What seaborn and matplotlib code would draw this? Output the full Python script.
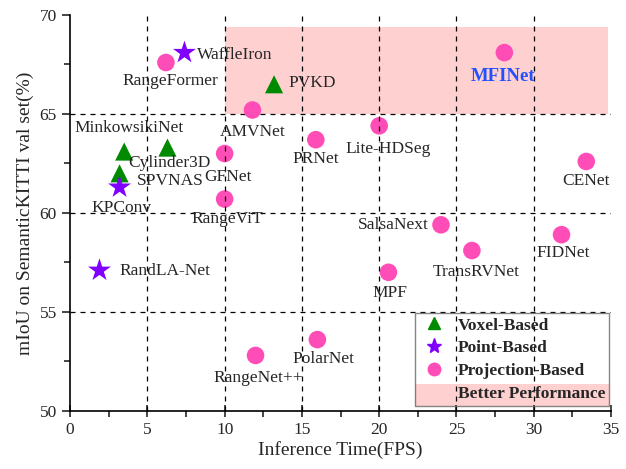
import matplotlib
matplotlib.use("Agg")
import matplotlib.pyplot as plt
import seaborn as sns
import pandas as pd
from matplotlib.lines import Line2D
from matplotlib.patches import Rectangle

methods = ["WaffleIron", "RangeFormer", "PVKD", "AMVNet", "PRNet", "Lite-HDSeg", "MFINet",
           "CENet", "MinkowsikiNet", "Cylinder3D", "SPVNAS", "KPConv", "GFNet", "RangeViT",
           "RandLA-Net", "RangeNet++", "PolarNet", "SalsaNext", "TransRVNet", "FIDNet", "MPF"]
fps = [7.4, 6.2, 13.2, 11.8, 15.9, 20.0, 28.1,
       33.4, 3.5, 6.3, 3.2, 3.2, 10.0, 10.0,
       1.9, 12.0, 16.0, 24.0, 26.0, 31.8, 20.6]
miou = [68.1, 67.6, 66.5, 65.2, 63.7, 64.4, 68.1,
        62.6, 63.1, 63.3, 62.0, 61.3, 63.0, 60.7,
        57.1, 52.8, 53.6, 59.4, 58.1, 58.9, 57.0]
kind = ["Point-Based", "Projection-Based", "Voxel-Based", "Projection-Based", "Projection-Based",
        "Projection-Based", "Projection-Based", "Projection-Based", "Voxel-Based", "Voxel-Based",
        "Voxel-Based", "Point-Based", "Projection-Based", "Projection-Based", "Point-Based",
        "Projection-Based", "Projection-Based", "Projection-Based", "Projection-Based",
        "Projection-Based", "Projection-Based"]

# label positions (text anchor) and alignment
label_pos = {
    "WaffleIron": (8.2, 68.0, "left"), "RangeFormer": (6.5, 66.65, "center"),
    "PVKD": (14.1, 66.55, "left"), "AMVNet": (11.8, 64.1, "center"),
    "PRNet": (15.9, 62.7, "center"), "Lite-HDSeg": (20.6, 63.25, "center"),
    "MFINet": (28.0, 66.9, "center"), "CENet": (33.4, 61.6, "center"),
    "MinkowsikiNet": (3.82, 64.3, "center"), "Cylinder3D": (6.4, 62.5, "center"),
    "SPVNAS": (4.3, 61.6, "left"), "GFNet": (10.2, 61.8, "center"),
    "KPConv": (3.3, 60.25, "center"), "RangeViT": (10.15, 59.7, "center"),
    "RandLA-Net": (3.2, 57.05, "left"), "RangeNet++": (12.15, 51.65, "center"),
    "PolarNet": (16.4, 52.6, "center"), "SalsaNext": (20.9, 59.4, "center"),
    "TransRVNet": (26.25, 57.0, "center"), "FIDNet": (31.9, 58.0, "center"),
    "MPF": (20.7, 55.95, "center"),
}

df = pd.DataFrame({"method": methods, "fps": fps, "miou": miou, "kind": kind})

colors = {"Voxel-Based": "#008a00", "Point-Based": "#8000ff", "Projection-Based": "#ff4db8"}
markers = {"Voxel-Based": "^", "Point-Based": "*", "Projection-Based": "o"}
sizes = {"Voxel-Based": 170, "Point-Based": 300, "Projection-Based": 160}
band_color = "#ffd0d0"

sns.set_style("ticks")
plt.rcParams["font.family"] = ["Liberation Serif", "DejaVu Serif"]

fig = plt.figure(figsize=(6.26, 4.69), dpi=100)
ax = fig.add_axes([0.112, 0.124, 0.864, 0.844])

ax.add_patch(Rectangle((10, 65), 24.8, 4.4, facecolor=band_color, edgecolor="none", zorder=0))
for xv in [5, 10, 15, 20, 25, 30]:
    ax.axvline(xv, color="black", lw=0.9, ls=(0, (4, 4)), zorder=4)
for yv in [55, 60, 65]:
    ax.axhline(yv, color="black", lw=0.9, ls=(0, (4, 4)), zorder=1)

sns.scatterplot(data=df, x="fps", y="miou", hue="kind", style="kind", size="kind",
                palette=colors, markers=markers, sizes=sizes, linewidth=0,
                legend=False, ax=ax, zorder=3)

for m in methods:
    tx, ty, ha = label_pos[m]
    if m == "MFINet":
        ax.text(tx, ty, m, ha=ha, va="center", fontsize=13.5, fontweight="bold", color="#2050ff", zorder=5)
    else:
        ax.text(tx, ty, m, ha=ha, va="center", fontsize=12.5, zorder=5)

ax.set_xlim(0, 35)
ax.set_ylim(50, 70)
ax.set_xticks([0, 5, 10, 15, 20, 25, 30, 35])
ax.set_yticks([50, 55, 60, 65, 70])
ax.set_xticks([2.5, 7.5, 12.5, 17.5, 22.5, 27.5, 32.5], minor=True)
ax.set_yticks([52.5, 57.5, 62.5, 67.5], minor=True)
ax.tick_params(axis="both", which="major", labelsize=12.5, length=6, width=1.2, direction="out")
ax.tick_params(axis="x", which="major", length=9, direction="inout")
ax.tick_params(axis="both", which="minor", length=4, width=1.2, direction="out")
ax.set_xlabel("Inference Time(FPS)", fontsize=14, labelpad=2)
ax.set_ylabel("mIoU on SemanticKITTI val set(%)", fontsize=14)
sns.despine(ax=ax)
for s in ["left", "bottom"]:
    ax.spines[s].set_linewidth(1.2)
    ax.spines[s].set_color("black")

handles = [
    Line2D([], [], ls="none", marker="^", color=colors["Voxel-Based"], markersize=9),
    Line2D([], [], ls="none", marker="*", color=colors["Point-Based"], markersize=11),
    Line2D([], [], ls="none", marker="o", color=colors["Projection-Based"], markersize=9),
    Line2D([], [], ls="none"),
]
leg = ax.legend(handles, ["Voxel-Based", "Point-Based", "Projection-Based", "Better Performance"],
                loc="lower right", bbox_to_anchor=(0.997, 0.012), prop={"weight": "bold", "size": 12.5},
                frameon=True, fancybox=False, edgecolor="#666666", facecolor="none",
                handlelength=1.7, handletextpad=0.5, labelspacing=0.38, borderpad=0.25,
                borderaxespad=0)
leg.get_frame().set_linewidth(1.0)
leg.set_zorder(6)

# full-width shaded band behind the last legend row
fig.canvas.draw()
fb = leg.get_frame().get_window_extent()
tb = leg.get_texts()[-1].get_window_extent()
inv = ax.transAxes.inverted()
(x0, y0) = inv.transform((fb.x0, fb.y0))
(x1, y1) = inv.transform((fb.x1, tb.y1 + 2))
ax.add_patch(Rectangle((x0, y0), x1 - x0, y1 - y0, transform=ax.transAxes, clip_on=False,
                       facecolor=band_color, edgecolor="none", zorder=0.5))

fig.savefig("out.png", dpi=100)
